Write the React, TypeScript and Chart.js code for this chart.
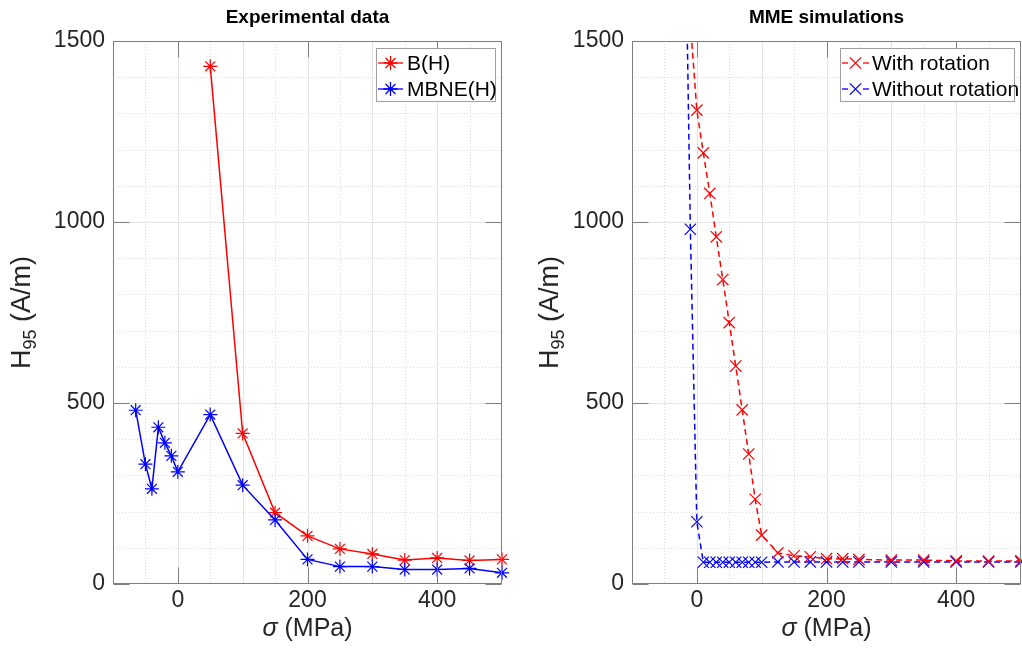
import React, { useEffect, useRef } from "react";
import { Chart, registerables } from "chart.js";

Chart.register(...registerables);

const FONT = '"Liberation Sans", Arial, Helvetica, sans-serif';

// ---------- Data: Experimental data ----------
const bhSigma = [50, 100, 150, 200, 250, 300, 350, 400, 450, 500];
const bhH95 = [1430, 416, 197, 133, 97, 83, 66, 72, 65, 68];

const mbneSigma = [-65, -50, -40, -30, -20, -10, 0, 50, 100, 150, 200, 250, 300, 350, 400, 450, 500];
const mbneH95 = [480, 331, 263, 433, 390, 354, 310, 468, 273, 177, 68, 48, 48, 40, 40, 43, 31];

// ---------- Data: MME simulations ----------
const rotSigma = [-10, 0, 10, 20, 30, 40, 50, 60, 70, 80, 90, 100, 125, 150, 175, 200, 225, 250, 300, 350, 400, 450, 500];
const rotH95 = [1550, 1309, 1191, 1079, 959, 841, 722, 602, 481, 359, 234, 135, 86, 78, 75, 70, 70, 68, 66, 66, 64, 63, 64];

const noRotSigma = [-20, -10, 0, 10, 20, 30, 40, 50, 60, 70, 80, 90, 100, 125, 150, 175, 200, 225, 250, 300, 350, 400, 450, 500];
const noRotH95 = [2100, 980, 172, 60, 60, 60, 60, 60, 60, 60, 60, 60, 60, 61, 61, 61, 61, 61, 61, 61, 61, 61, 61, 61];

// ---------- Axes ----------
const xMin = -100;
const xMax = 500;
const yMin = 0;
const yMax = 1500;
const xTickValues = [0, 200, 400];
const yTickValues = [0, 500, 1000, 1500];
const xGridMajor = [0, 100, 200, 300, 400];
const xGridMinor = [-50, 50, 150, 250, 350, 450];
const yGridMajor = [500, 1000];
const yGridMinor = [100, 200, 300, 400, 600, 700, 800, 900, 1100, 1200, 1300, 1400];

const titles = ["Experimental data", "MME simulations"];
const expLabels = ["B(H)", "MBNE(H)"];
const simLabels = ["With rotation", "Without rotation"];

const RED = "#ff0000";
const BLUE = "#0000ff";
const TEXT = "#262626";
const AXIS = "#7f7f7f";

const toXY = (xs: number[], ys: number[]) => xs.map((x, i) => ({ x, y: ys[i] }));

type LegendItem = { label: string; color: string; dashed: boolean; marker: "star" | "crossRot" };

type PanelCfg = {
  title: string;
  datasets: any[];
  legend: LegendItem[];
  legendBox: { w: number };
  yLabelX: number;
};

function drawMarker(ctx: CanvasRenderingContext2D, kind: string, x: number, y: number, r: number) {
  ctx.beginPath();
  const d = r * 0.707;
  if (kind === "star") {
    ctx.moveTo(x - r, y); ctx.lineTo(x + r, y);
    ctx.moveTo(x, y - r); ctx.lineTo(x, y + r);
  }
  ctx.moveTo(x - d, y - d); ctx.lineTo(x + d, y + d);
  ctx.moveTo(x - d, y + d); ctx.lineTo(x + d, y - d);
  ctx.stroke();
}

function makeDecor(cfg: PanelCfg) {
  return {
    id: "matlabDecor",
    beforeDatasetsDraw(chart: any) {
      const { ctx, chartArea: a, scales } = chart;
      const xs = scales.x, ys = scales.y;
      ctx.save();
      ctx.beginPath();
      ctx.rect(a.left, a.top, a.right - a.left, a.bottom - a.top);
      ctx.clip();
      ctx.lineWidth = 1;
      ctx.strokeStyle = "#dcdcdc";
      ctx.setLineDash([1, 2]);
      xGridMinor.forEach((v) => {
        const px = Math.round(xs.getPixelForValue(v)) + 0.5;
        ctx.beginPath(); ctx.moveTo(px, a.top); ctx.lineTo(px, a.bottom); ctx.stroke();
      });
      yGridMinor.forEach((v) => {
        const py = Math.round(ys.getPixelForValue(v)) + 0.5;
        ctx.beginPath(); ctx.moveTo(a.left, py); ctx.lineTo(a.right, py); ctx.stroke();
      });
      ctx.setLineDash([]);
      ctx.strokeStyle = "#e3e3e3";
      xGridMajor.forEach((v) => {
        const px = Math.round(xs.getPixelForValue(v)) + 0.5;
        ctx.beginPath(); ctx.moveTo(px, a.top); ctx.lineTo(px, a.bottom); ctx.stroke();
      });
      yGridMajor.forEach((v) => {
        const py = Math.round(ys.getPixelForValue(v)) + 0.5;
        ctx.beginPath(); ctx.moveTo(a.left, py); ctx.lineTo(a.right, py); ctx.stroke();
      });
      ctx.restore();
    },
    afterDatasetsDraw(chart: any) {
      const { ctx, chartArea: a, scales } = chart;
      const xs = scales.x, ys = scales.y;
      ctx.save();
      ctx.strokeStyle = AXIS;
      ctx.lineWidth = 1;
      ctx.setLineDash([]);
      const L = Math.round(a.left) + 0.5, R = Math.round(a.right) - 0.5;
      const T = Math.round(a.top) + 0.5, B = Math.round(a.bottom) - 0.5;
      ctx.strokeRect(L, T, R - L, B - T);
      const tl = 16;
      xTickValues.forEach((v) => {
        const px = Math.round(xs.getPixelForValue(v)) + 0.5;
        ctx.beginPath();
        ctx.moveTo(px, B); ctx.lineTo(px, B - tl);
        ctx.moveTo(px, T); ctx.lineTo(px, T + tl);
        ctx.stroke();
      });
      yTickValues.forEach((v) => {
        const py = Math.round(ys.getPixelForValue(v)) + 0.5;
        ctx.beginPath();
        ctx.moveTo(L, py); ctx.lineTo(L + tl, py);
        ctx.moveTo(R, py); ctx.lineTo(R - tl, py);
        ctx.stroke();
      });
      // legend
      const bw = cfg.legendBox.w, bh = 54;
      const bx = Math.round(a.right) - 6 - bw, by = Math.round(a.top) + 7;
      ctx.fillStyle = "#ffffff";
      ctx.fillRect(bx, by, bw, bh);
      ctx.strokeStyle = "#a0a0a0";
      ctx.strokeRect(bx + 0.5, by + 0.5, bw - 1, bh - 1);
      ctx.font = `21px ${FONT}`;
      ctx.textBaseline = "middle";
      ctx.textAlign = "left";
      cfg.legend.forEach((it, i) => {
        const cy = by + 15 + i * 26;
        const x0 = bx + 2, x1 = bx + 29;
        ctx.strokeStyle = it.color;
        ctx.lineWidth = 1.3;
        if (it.dashed) {
          ctx.beginPath(); ctx.moveTo(x0, cy); ctx.lineTo(x0 + 6, cy); ctx.stroke();
          ctx.beginPath(); ctx.moveTo(x1 - 6, cy); ctx.lineTo(x1, cy); ctx.stroke();
        } else {
          ctx.beginPath(); ctx.moveTo(x0, cy); ctx.lineTo(x1 - 2, cy); ctx.stroke();
        }
        drawMarker(ctx, it.marker, (x0 + x1) / 2 - (it.dashed ? 0 : 1), cy, it.marker === "star" ? 7 : 8);
        ctx.fillStyle = "#000000";
        ctx.fillText(it.label, x1 + (it.dashed ? 3 : 2), cy + 1);
      });
      ctx.restore();
    },
    afterDraw(chart: any) {
      const { ctx, chartArea: a } = chart;
      ctx.save();
      ctx.fillStyle = "#000000";
      ctx.font = `bold 19px ${FONT}`;
      ctx.textAlign = "center";
      ctx.textBaseline = "middle";
      ctx.fillText(cfg.title, (a.left + a.right) / 2, 18);
      // x label
      ctx.fillStyle = TEXT;
      const f1 = `italic 25px ${FONT}`, f2 = `25px ${FONT}`;
      ctx.font = f1; const w1 = ctx.measureText("σ").width;
      ctx.font = f2; const w2 = ctx.measureText(" (MPa)").width;
      const cx = (a.left + a.right) / 2;
      const sx = cx - (w1 + w2) / 2;
      ctx.textAlign = "left";
      ctx.textBaseline = "alphabetic";
      ctx.font = f1; ctx.fillText("σ", sx, 636);
      ctx.font = f2; ctx.fillText(" (MPa)", sx + w1, 636);
      // y label with subscript
      const cy = (a.top + a.bottom) / 2;
      ctx.translate(cfg.yLabelX, cy);
      ctx.rotate(-Math.PI / 2);
      const fm = `27px ${FONT}`, fs = `18px ${FONT}`;
      ctx.font = fm; const wH = ctx.measureText("H").width; const wR = ctx.measureText(" (A/m)").width;
      ctx.font = fs; const wS = ctx.measureText("95").width;
      const x0 = -(wH + wS + wR) / 2;
      const base = 10;
      ctx.font = fm; ctx.fillText("H", x0, base);
      ctx.font = fs; ctx.fillText("95", x0 + wH, base + 6);
      ctx.font = fm; ctx.fillText(" (A/m)", x0 + wH + wS, base);
      ctx.restore();
    },
  };
}

const CANVAS_W = 520;

function Panel({ cfg, left }: { cfg: PanelCfg; left: number }) {
  const ref = useRef<HTMLCanvasElement | null>(null);
  useEffect(() => {
    if (!ref.current) return;
    const chart = new Chart(ref.current, {
      type: "line",
      data: { datasets: cfg.datasets },
      options: {
        animation: false,
        responsive: false,
        devicePixelRatio: 1,
        layout: { padding: { top: 41, right: 18, left: 0, bottom: 0 } },
        plugins: { legend: { display: false }, tooltip: { enabled: false }, title: { display: false } },
        scales: {
          x: {
            type: "linear",
            min: xMin,
            max: xMax,
            grid: { display: false, drawTicks: false },
            border: { display: false },
            afterBuildTicks: (s: any) => { s.ticks = xTickValues.map((v) => ({ value: v })); },
            afterFit: (s: any) => { s.height = 73; },
            ticks: { color: TEXT, font: { family: FONT, size: 23 }, padding: 3, maxRotation: 0, autoSkip: false, callback: (v: any) => String(v) },
          },
          y: {
            type: "linear",
            min: yMin,
            max: yMax,
            grid: { display: false, drawTicks: false },
            border: { display: false },
            afterBuildTicks: (s: any) => { s.ticks = yTickValues.map((v) => ({ value: v })); },
            afterFit: (s: any) => { s.width = 113; },
            ticks: { color: TEXT, font: { family: FONT, size: 23 }, padding: 8, autoSkip: false, callback: (v: any) => String(v) },
          },
        },
      },
      plugins: [makeDecor(cfg)],
    } as any);
    return () => chart.destroy();
  }, []);
  return (
    <div style={{ position: "absolute", left, top: 0, width: CANVAS_W, height: 657 }}>
      <canvas ref={ref} width={CANVAS_W} height={657} style={{ display: "block" }} />
    </div>
  );
}

const clipCfg = { left: 12, right: 12, top: 0, bottom: 12 };

const expCfg: PanelCfg = {
  title: titles[0],
  yLabelX: 20,
  legendBox: { w: 120 },
  legend: [
    { label: expLabels[0], color: RED, dashed: false, marker: "star" },
    { label: expLabels[1], color: BLUE, dashed: false, marker: "star" },
  ],
  datasets: [
    {
      label: expLabels[1],
      data: toXY(mbneSigma, mbneH95),
      borderColor: BLUE,
      backgroundColor: BLUE,
      borderWidth: 1.5,
      pointStyle: "star",
      pointRadius: 7,
      pointBorderWidth: 1.2,
      tension: 0,
      clip: clipCfg,
    },
    {
      label: expLabels[0],
      data: toXY(bhSigma, bhH95),
      borderColor: RED,
      backgroundColor: RED,
      borderWidth: 1.5,
      pointStyle: "star",
      pointRadius: 7,
      pointBorderWidth: 1.2,
      tension: 0,
      clip: clipCfg,
    },
  ],
};

const simCfg: PanelCfg = {
  title: titles[1],
  yLabelX: 548 - 519,
  legendBox: { w: 175 },
  legend: [
    { label: simLabels[0], color: RED, dashed: true, marker: "crossRot" },
    { label: simLabels[1], color: BLUE, dashed: true, marker: "crossRot" },
  ],
  datasets: [
    {
      label: simLabels[0],
      data: toXY(rotSigma, rotH95),
      borderColor: RED,
      backgroundColor: RED,
      borderWidth: 1.5,
      borderDash: [6, 4],
      pointStyle: "crossRot",
      pointRadius: 8,
      pointBorderWidth: 1.2,
      tension: 0,
      clip: clipCfg,
    },
    {
      label: simLabels[1],
      data: toXY(noRotSigma, noRotH95),
      borderColor: BLUE,
      backgroundColor: BLUE,
      borderWidth: 1.5,
      borderDash: [6, 4],
      pointStyle: "crossRot",
      pointRadius: 8,
      pointBorderWidth: 1.2,
      tension: 0,
      clip: clipCfg,
    },
  ],
};

export default function App() {
  return (
    <div style={{ position: "absolute", left: 0, top: 0, width: 1022, height: 657, background: "#ffffff", overflow: "hidden" }}>
      <Panel cfg={expCfg} left={0} />
      <Panel cfg={simCfg} left={519} />
    </div>
  );
}
